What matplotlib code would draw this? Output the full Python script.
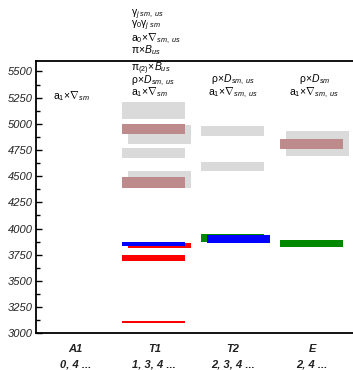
import matplotlib
matplotlib.use("Agg")
import matplotlib.pyplot as plt
from matplotlib.ticker import MultipleLocator

# categories (irreps) and their J content
categorias = ['A1', 'T1', 'T2', 'E']
contenido_j = ['0, 4 ...', '1, 3, 4 ...', '2, 3, 4 ...', '2, 4 ...']

# levels: category, mass (MeV), half uncertainty
gris_cat = ['T1', 'T1', 'T1', 'T1', 'T2', 'T2', 'E']
gris_masa = [5124, 4899, 4718, 4469, 4930, 4594, 4813]
gris_err = [80, 89, 48, 81, 48, 43, 120]

marron_cat = ['T1', 'T1', 'E']
marron_masa = [4951, 4442, 4803]
marron_err = [52, 52, 48]

rojo_cat = ['T1', 'T1', 'T1']
rojo_masa = [3840, 3720, 3111]
rojo_err = [22, 30, 10]

verde_cat = ['T2', 'E']
verde_masa = [3906, 3859]
verde_err = [38, 32]

azul_cat = ['T1', 'T2']
azul_masa = [3852, 3902]
azul_err = [19, 37]

# operator labels over each column
etiq_a1 = [r'$\mathrm{a}_{\mathit{1}}\!\times\!\nabla_{\mathit{sm}}$']
etiq_t1 = [
    r'$\mathrm{\gamma}_{\mathit{j\ sm,\ us}}$',
    r'$\mathrm{\gamma}_{\mathit{0}}\mathrm{\gamma}_{\mathit{j\ sm}}$',
    r'$\mathrm{a}_{\mathit{0}}\!\times\!\nabla_{\mathit{sm,\ us}}$',
    r'$\mathrm{\pi}\!\times\!B_{\mathit{us}}$',
    r'$\mathrm{\pi}_{\mathit{(2)}}\!\times\!B_{\mathit{us}}$',
    r'$\mathrm{\rho}\!\times\!D_{\mathit{sm,\ us}}$',
    r'$\mathrm{a}_{\mathit{1}}\!\times\!\nabla_{\mathit{sm}}$',
]
etiq_t2 = [r'$\mathrm{\rho}\!\times\!D_{\mathit{sm,\ us}}$',
           r'$\mathrm{a}_{\mathit{1}}\!\times\!\nabla_{\mathit{sm,\ us}}$']
etiq_e = [r'$\mathrm{\rho}\!\times\!D_{\mathit{sm}}$',
          r'$\mathrm{a}_{\mathit{1}}\!\times\!\nabla_{\mathit{sm,\ us}}$']

plt.rcParams['font.family'] = ['Liberation Sans', 'DejaVu Sans']
plt.rcParams['mathtext.fontset'] = 'custom'
plt.rcParams['mathtext.rm'] = 'Liberation Sans'
plt.rcParams['mathtext.it'] = 'Liberation Sans:italic'
plt.rcParams['mathtext.bf'] = 'Liberation Sans:bold'

fig = plt.figure(figsize=(3.53, 3.70), dpi=100)
ax = fig.add_axes([36 / 353, 1 - 333.3 / 370, 317 / 353, (333.3 - 61) / 370])

pos = {c: i for i, c in enumerate(categorias)}
ancho = 0.8


def dibujar(cats, masas, errs, color, desplazados, zorder):
    for k, (c, m, e) in enumerate(zip(cats, masas, errs)):
        x = pos[c] + (0.065 if desplazados[k] else -0.01)
        ax.bar(x, 2 * e, bottom=m - e, width=ancho, color=color,
               edgecolor='none', zorder=zorder)


# which levels are drawn slightly to the right
dibujar(gris_cat, gris_masa, gris_err, '#dadada',
        [False, True, False, True, False, False, True], 1)
dibujar(marron_cat, marron_masa, marron_err, '#bd8b8b', [False, False, False], 2)
dibujar(rojo_cat, rojo_masa, rojo_err, '#ff0000', [True, False, False], 3)
dibujar(verde_cat, verde_masa, verde_err, '#008800', [False, False], 4)
dibujar(azul_cat, azul_masa, azul_err, '#0000ff', [False, True], 5)

ax.set_xlim(-0.5, 3.52)
ax.set_ylim(3000, 5600)

ax.yaxis.set_major_locator(MultipleLocator(250))
ax.yaxis.set_minor_locator(MultipleLocator(125))
ax.tick_params(axis='y', which='major', direction='in', length=4.5, width=1,
               pad=2, labelsize=8, labelcolor='#222222')
ax.tick_params(axis='y', which='minor', direction='in', length=3, width=1)
for t in ax.get_yticklabels():
    t.set_fontstyle('italic')

ax.set_xticks(range(len(categorias)))
ax.set_xticklabels([c + '\n' + j for c, j in zip(categorias, contenido_j)],
                   fontsize=8, fontweight='bold', fontstyle='italic',
                   linespacing=1.6, color='#222222')
ax.tick_params(axis='x', length=0, pad=8)

ax.spines['right'].set_visible(False)
for s in ['left', 'top', 'bottom']:
    ax.spines[s].set_linewidth(1.3)

tam = 7.5
ax.text(-0.05, 5232, etiq_a1[0], ha='center', va='baseline', fontsize=tam)

y_t1 = [6028, 5923, 5790, 5675, 5503, 5388, 5275]
for s, y in zip(etiq_t1, y_t1):
    ax.text(0.71, y, s, ha='left', va='baseline', fontsize=tam, clip_on=False)

for s, y in zip(etiq_t2, [5397, 5273]):
    ax.text(2.0, y, s, ha='center', va='baseline', fontsize=tam)
for s, y in zip(etiq_e, [5397, 5273]):
    ax.text(3.03, y, s, ha='center', va='baseline', fontsize=tam)

plt.savefig('out.png', dpi=100)
plt.close()
